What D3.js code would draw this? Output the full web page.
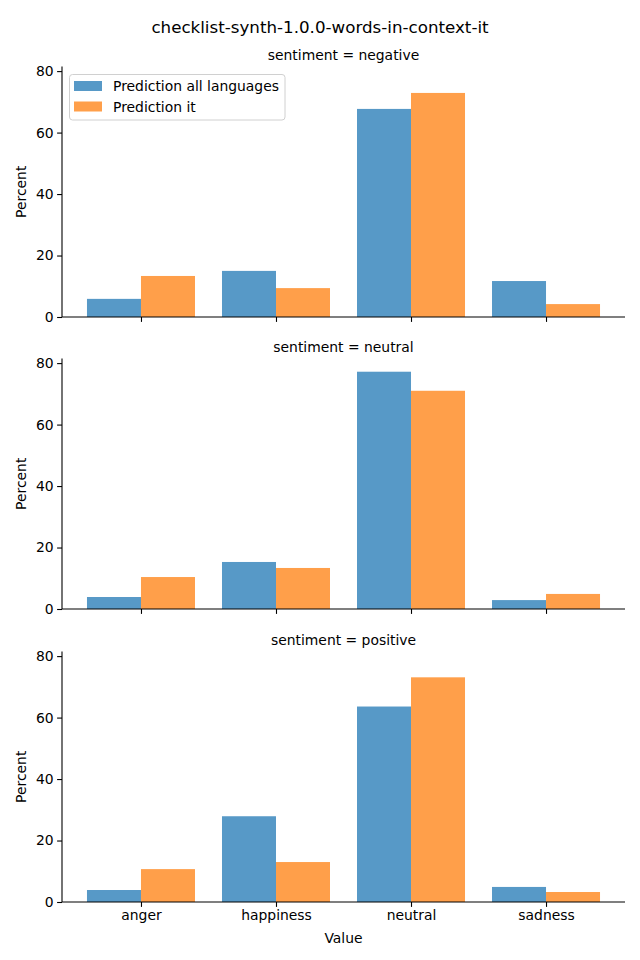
<!DOCTYPE html>
<html>
<head>
<meta charset="utf-8">
<script src="https://cdn.jsdelivr.net/npm/d3@7"></script>
<style>
  body { margin: 0; background: #fff; }
  svg { display: block; font-family: "DejaVu Sans", sans-serif; }
</style>
</head>
<body>
<div id="chart"></div>
<script>
const categories = ["anger", "happiness", "neutral", "sadness"];
const sentiments = ["negative", "neutral", "positive"];
const seriesNames = ["Prediction all languages", "Prediction it"];
const allLanguages = {
  negative: [5.9, 15.0, 67.7, 11.7],
  neutral:  [3.9, 15.3, 77.2, 2.9],
  positive: [3.9, 27.9, 63.6, 4.9]
};
const itValues = {
  negative: [13.35, 9.4, 72.9, 4.2],
  neutral:  [10.4, 13.35, 71.0, 4.9],
  positive: [10.7, 13.0, 73.1, 3.25]
};
const yTicks = [0, 20, 40, 60, 80];
const colors = ["#5799c7", "#ff9f4a"];

const W = 640, H = 960;
const svg = d3.select("#chart").append("svg").attr("width", W).attr("height", H);

const left = 62, right = 625;
const panelBottoms = [317, 609, 902];
const panelHeight = 250.5;
const yMax = 81.5;
const fs = 13.9;

const x = d3.scaleLinear().domain([-0.585, 3.585]).range([left, right]);
const barW = 0.4;

svg.append("text").attr("x", 320).attr("y", 33).attr("text-anchor", "middle")
  .attr("font-size", 16.7).attr("fill", "#000").text("checklist-synth-1.0.0-words-in-context-it");

sentiments.forEach((s, pi) => {
  const bottom = panelBottoms[pi];
  const y = d3.scaleLinear().domain([0, yMax]).range([bottom, bottom - panelHeight]);
  const g = svg.append("g");

  // bars
  [allLanguages[s], itValues[s]].forEach((vals, si) => {
    g.selectAll(null).data(vals).enter().append("rect")
      .attr("x", (d, i) => x(i + (si === 0 ? -barW : 0)))
      .attr("width", x(barW) - x(0))
      .attr("y", d => y(d))
      .attr("height", d => y(0) - y(d))
      .attr("fill", colors[si]);
  });

  // y axis
  const yAxis = d3.axisLeft(y).tickValues(yTicks).tickSize(4.9).tickPadding(3.5).tickFormat(d3.format("d"));
  const ya = g.append("g").attr("transform", `translate(${left},0)`).call(yAxis);
  ya.select(".domain").attr("stroke", "#000").attr("stroke-width", 1.1).attr("d", `M-0,${y(yMax)}V${y(0)}`);
  ya.selectAll(".tick line").attr("stroke", "#000").attr("stroke-width", 1.1);
  ya.selectAll(".tick text").attr("font-size", fs).attr("fill", "#000").attr("font-family", "DejaVu Sans");

  // x axis
  const xAxis = d3.axisBottom(x).tickValues([0, 1, 2, 3]).tickSize(4.9).tickPadding(3.5)
    .tickFormat(i => pi === 2 ? categories[i] : "");
  const xa = g.append("g").attr("transform", `translate(0,${bottom})`).call(xAxis);
  xa.select(".domain").attr("stroke", "#000").attr("stroke-width", 1.1).attr("d", `M${left},0H${right}`);
  xa.selectAll(".tick line").attr("stroke", "#000").attr("stroke-width", 1.1);
  xa.selectAll(".tick text").attr("font-size", fs).attr("fill", "#000").attr("font-family", "DejaVu Sans");

  // panel title
  g.append("text").attr("x", (left + right) / 2).attr("y", bottom - panelHeight - 6.5)
    .attr("text-anchor", "middle").attr("font-size", fs).attr("fill", "#000")
    .text(`sentiment = ${s}`);

  // y label
  g.append("text")
    .attr("transform", `translate(26,${bottom - panelHeight / 2 - 0}) rotate(-90)`)
    .attr("text-anchor", "middle").attr("font-size", fs).attr("fill", "#000").text("Percent");

  if (pi === 0) {
    const lg = g.append("g");
    lg.append("rect").attr("x", 69.5).attr("y", 74.5).attr("width", 215.5).attr("height", 45.5)
      .attr("rx", 3).attr("fill", "#fff").attr("fill-opacity", 0.8).attr("stroke", "#d0d0d0").attr("stroke-width", 1);
    seriesNames.forEach((n, i) => {
      lg.append("rect").attr("x", 74).attr("y", 81 + i * 20.5).attr("width", 28).attr("height", 10).attr("fill", colors[i]);
      lg.append("text").attr("x", 113).attr("y", 91 + i * 20.5).attr("font-size", fs).attr("fill", "#000").text(n);
    });
  }
});

svg.append("text").attr("x", (left + right) / 2).attr("y", 943).attr("text-anchor", "middle")
  .attr("font-size", fs).attr("fill", "#000").text("Value");
</script>
</body>
</html>
